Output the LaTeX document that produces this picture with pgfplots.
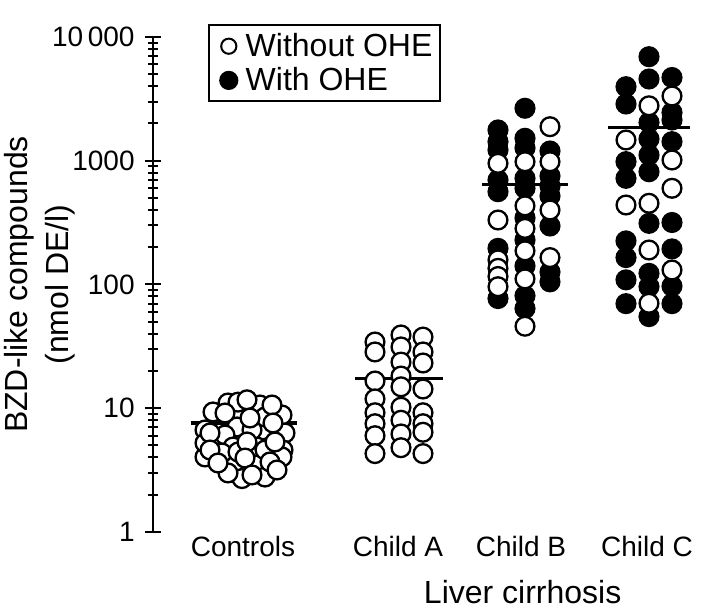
\documentclass[border=0pt]{standalone}
\usepackage{fontspec}
\setmainfont{Liberation Sans}
\usepackage{pgfplots}
\pgfplotsset{compat=1.18}
\pgfplotsset{
  openpt/.style={only marks, mark=*, mark size=4.7pt, mark options={draw=black, fill=white, line width=1.15pt}, forget plot},
  fillpt/.style={only marks, mark=*, mark size=4.7pt, mark options={draw=black, fill=black, line width=1.15pt}, forget plot},
  meanln/.style={black, line width=1.6pt, no marks, forget plot},
}
\begin{document}
\begin{tikzpicture}
\begin{axis}[
  scale only axis,
  width=283.5pt, height=247.5pt,
  xmin=153, xmax=720,
  ymode=log, ymin=1, ymax=10000,
  axis lines=left,
  axis line style={-, line width=1pt},
  x axis line style={draw=none},
  xtick={243,398,521,647},
  xticklabels={Controls,Child A,Child B,Child C},
  xtick style={draw=none},
  ytick={1,10,100,1000,10000},
  yticklabels={1,10,100,1000,10\,000},
  minor ytick={2,3,4,5,6,7,8,9,20,30,40,50,60,70,80,90,200,300,400,500,600,700,800,900,2000,3000,4000,5000,6000,7000,8000,9000},
  tick align=center,
  major tick length=8pt,
  minor tick length=5pt,
  ytick style={line width=1pt, black},
  ticklabel style={font=\fontsize{14}{16}\selectfont},
  xticklabel style={anchor=base, inner sep=0pt, yshift=-8.5pt},
  yticklabel style={anchor=east, inner sep=0pt, xshift=-5pt},
  ylabel={BZD-like compounds\\(nmol DE/l)},
  ylabel style={font=\fontsize{16}{20.5}\selectfont, align=center, at={(axis description cs:-0.136,0.5)}, anchor=south, inner sep=0pt},
  xlabel={Liver cirrhosis},
  xlabel style={font=\fontsize{16}{18}\selectfont, at={(axis description cs:0.652,-0.121)}, anchor=center, inner sep=0pt},
  clip=false,
  legend style={at={(axis description cs:0.097,1.026)}, anchor=north west, draw=black, line width=1pt,
    font=\fontsize{16}{18}\selectfont, inner xsep=2pt, inner ysep=2pt},
  legend cell align=left,
  legend image code/.code={\draw[#1] plot coordinates {(0.26cm,0cm)}; \path (0cm,0cm) (0.47cm,0cm);},
]
\addlegendimage{only marks, mark=*, mark size=3.8pt, mark options={fill=white, draw=black, line width=1pt}}
\addlegendentry{Without OHE}
\addlegendimage{only marks, mark=*, mark size=4.3pt, mark options={fill=black, draw=black}}
\addlegendentry{With OHE}

% Controls (back layer)
\addplot[openpt] coordinates {
(228,11.03) (260,10.62) (213,9.33) (282,8.82) (237,7.06) (262,6.67) (285,6.31)
(205,6.67) (225,6.08) (257,4.86) (233,4.86) (283,4.60) (205,4.04) (235,3.68)
(257,3.48) (242,2.70) (265,2.78) (222,4.35) (282,4.04) (265,8.50) (238,11.2)
(205,5.24) (252,6.67) (265,4.60) (238,4.43)
};
% Controls (front layer)
\addplot[openpt] coordinates {
(247,11.7) (272,10.62) (225,9.15) (250,8.34) (273,7.60) (210,6.31) (247,5.34)
(275,5.34) (210,4.60) (245,3.96) (270,3.68) (252,2.89) (228,3.00) (277,3.17) (218,3.61)
};
% Child A
\addplot[openpt] coordinates {
(375,34.3) (375,28.5) (375,16.6) (375,11.9) (375,9.2) (375,7.5) (375,6.0) (375,4.3)
(401,39.1) (401,31.3) (401,23.6) (401,18.2) (401,14.9) (401,10.2) (401,8.0) (401,6.2) (401,4.8)
(423,37.6) (423,28.5) (423,23.2) (423,14.3) (423,9.2) (423,7.5) (423,6.4) (423,4.3)
};
% Child B filled
\addplot[fillpt] coordinates {
(498,1773) (498,1426) (498,1222) (498,699) (498,562) (498,196) (498,77)
(525,2655) (525,1518) (525,1268) (525,721) (525,599) (525,345) (525,229) (525,141) (525,81) (525,64)
(550,1199) (550,753) (550,625) (550,519) (550,297) (550,126) (550,105)
};
% Child B open
\addplot[openpt] coordinates {
(498,953) (498,332) (498,158) (498,135) (498,116) (498,96)
(525,982) (525,432) (525,284) (525,187) (525,111) (525,46)
(550,1884) (550,982) (550,400) (550,165)
};
% Child C filled
\addplot[fillpt] coordinates {
(626,3966) (626,2874) (626,983) (626,721) (626,225) (626,165) (626,109) (626,70)
(649,6932) (649,4577) (649,2038) (649,1499) (649,1113) (649,815) (649,312) (649,123) (649,96) (649,55)
(672,4708) (672,2453) (672,2135) (672,1426) (672,317) (672,194) (672,97) (672,70)
};
% Child C open
\addplot[openpt] coordinates {
(626,1471) (626,439)
(649,2781) (649,453) (649,190) (649,70.5)
(672,3337) (672,1014) (672,599) (672,131)
};
% group means
\addplot[meanln] coordinates {(191,7.6) (297,7.6)};
\addplot[meanln] coordinates {(355,17.5) (443,17.5)};
\addplot[meanln] coordinates {(482,645) (568,645)};
\addplot[meanln] coordinates {(608,1865) (690,1865)};
\coordinate (O) at (rel axis cs:0,0);
\end{axis}
\pgfresetboundingbox
\path[use as bounding box] ([shift={(-76.5pt,-41.5pt)}]O) rectangle ([shift={(283.5pt,266pt)}]O);
\end{tikzpicture}
\end{document}
